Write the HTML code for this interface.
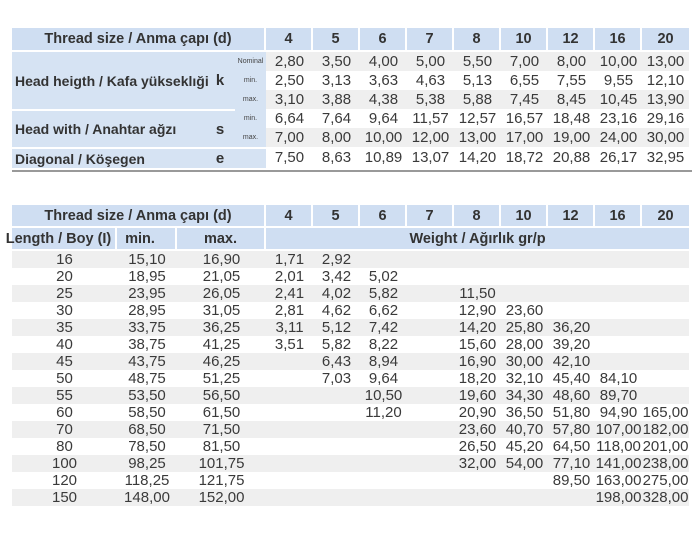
<!DOCTYPE html>
<html><head><meta charset="utf-8"><style>
body{margin:0;width:700px;height:560px;background:#fff;position:relative;overflow:hidden;font-family:"Liberation Sans",sans-serif;color:#3a3a3a}
table{position:absolute;left:12px;border-collapse:separate;border-spacing:0;table-layout:fixed;font-size:15px}
td{padding:0;text-align:center;white-space:nowrap;overflow:visible}
.h{background:#cfdef2 !important;font-weight:bold;color:#333;border-right:2px solid #fff;border-bottom:2px solid #fff;font-size:14.5px}
.g td{background:#efefef}
.lb{background:#d6e3f3 !important;font-weight:bold;text-align:left;padding-left:3px;color:#333;font-size:14px}
.sub{font-size:7px;background:#d6e3f3 !important;color:#444}
.lt{background:#d6e3f3 !important;font-weight:bold;color:#333}
#t1 td{height:19px}
#t1 .hr td{height:22px}
#t2 td{height:17px}
#t2 .hr td{height:21px}
.line{position:absolute;left:12px;width:680px;height:2px;background:#999}
</style></head><body>
<table id="t1" style="top:28px;width:677px">
<colgroup><col style="width:193px"><col style="width:30px"><col style="width:31px"><col span="9" style="width:47px"></colgroup>
<tr class="hr"><td class="h" colspan="3">Thread size / Anma çapı (d)</td><td class="h">4</td><td class="h">5</td><td class="h">6</td><td class="h">7</td><td class="h">8</td><td class="h">10</td><td class="h">12</td><td class="h">16</td><td class="h" style="border-right:0">20</td></tr>
<tr class="g"><td class="lb" rowspan="3">Head heigth / Kafa yükseklıği</td><td class="lt" rowspan="3">k</td><td class="sub">Nominal</td><td>2,80</td><td>3,50</td><td>4,00</td><td>5,00</td><td>5,50</td><td>7,00</td><td>8,00</td><td>10,00</td><td>13,00</td></tr>
<tr><td class="sub">min.</td><td>2,50</td><td>3,13</td><td>3,63</td><td>4,63</td><td>5,13</td><td>6,55</td><td>7,55</td><td>9,55</td><td>12,10</td></tr>
<tr class="g"><td class="sub">max.</td><td>3,10</td><td>3,88</td><td>4,38</td><td>5,38</td><td>5,88</td><td>7,45</td><td>8,45</td><td>10,45</td><td>13,90</td></tr>
<tr><td class="lb" rowspan="2" style="border-top:2px solid #fff">Head with / Anahtar ağzı</td><td class="lt" rowspan="2" style="border-top:2px solid #fff">s</td><td class="sub">min.</td><td>6,64</td><td>7,64</td><td>9,64</td><td>11,57</td><td>12,57</td><td>16,57</td><td>18,48</td><td>23,16</td><td>29,16</td></tr>
<tr class="g"><td class="sub">max.</td><td>7,00</td><td>8,00</td><td>10,00</td><td>12,00</td><td>13,00</td><td>17,00</td><td>19,00</td><td>24,00</td><td>30,00</td></tr>
<tr><td class="lb" style="border-top:2px solid #fff">Diagonal / Köşegen</td><td class="lt" style="border-top:2px solid #fff">e</td><td class="sub" style="border-top:2px solid #fff"></td><td>7,50</td><td>8,63</td><td>10,89</td><td>13,07</td><td>14,20</td><td>18,72</td><td>20,88</td><td>26,17</td><td>32,95</td></tr>
</table>
<div class="line" style="top:170px"></div>
<table id="t2" style="top:205px;width:677px">
<colgroup><col style="width:105px"><col style="width:60px"><col style="width:89px"><col span="9" style="width:47px"></colgroup>
<tr class="hr"><td class="h" colspan="3">Thread size / Anma çapı (d)</td><td class="h">4</td><td class="h">5</td><td class="h">6</td><td class="h">7</td><td class="h">8</td><td class="h">10</td><td class="h">12</td><td class="h">16</td><td class="h" style="border-right:0">20</td></tr>
<tr class="hr"><td class="h" style="text-indent:-10px">Length / Boy (I)</td><td class="h" style="text-indent:-12px">min.</td><td class="h">max.</td><td class="h" colspan="9" style="border-right:0">Weight / Ağırlık gr/p</td></tr>
<tr class="g"><td>16</td><td>15,10</td><td>16,90</td><td>1,71</td><td>2,92</td><td></td><td></td><td></td><td></td><td></td><td></td><td></td></tr>
<tr><td>20</td><td>18,95</td><td>21,05</td><td>2,01</td><td>3,42</td><td>5,02</td><td></td><td></td><td></td><td></td><td></td><td></td></tr>
<tr class="g"><td>25</td><td>23,95</td><td>26,05</td><td>2,41</td><td>4,02</td><td>5,82</td><td></td><td>11,50</td><td></td><td></td><td></td><td></td></tr>
<tr><td>30</td><td>28,95</td><td>31,05</td><td>2,81</td><td>4,62</td><td>6,62</td><td></td><td>12,90</td><td>23,60</td><td></td><td></td><td></td></tr>
<tr class="g"><td>35</td><td>33,75</td><td>36,25</td><td>3,11</td><td>5,12</td><td>7,42</td><td></td><td>14,20</td><td>25,80</td><td>36,20</td><td></td><td></td></tr>
<tr><td>40</td><td>38,75</td><td>41,25</td><td>3,51</td><td>5,82</td><td>8,22</td><td></td><td>15,60</td><td>28,00</td><td>39,20</td><td></td><td></td></tr>
<tr class="g"><td>45</td><td>43,75</td><td>46,25</td><td></td><td>6,43</td><td>8,94</td><td></td><td>16,90</td><td>30,00</td><td>42,10</td><td></td><td></td></tr>
<tr><td>50</td><td>48,75</td><td>51,25</td><td></td><td>7,03</td><td>9,64</td><td></td><td>18,20</td><td>32,10</td><td>45,40</td><td>84,10</td><td></td></tr>
<tr class="g"><td>55</td><td>53,50</td><td>56,50</td><td></td><td></td><td>10,50</td><td></td><td>19,60</td><td>34,30</td><td>48,60</td><td>89,70</td><td></td></tr>
<tr><td>60</td><td>58,50</td><td>61,50</td><td></td><td></td><td>11,20</td><td></td><td>20,90</td><td>36,50</td><td>51,80</td><td>94,90</td><td>165,00</td></tr>
<tr class="g"><td>70</td><td>68,50</td><td>71,50</td><td></td><td></td><td></td><td></td><td>23,60</td><td>40,70</td><td>57,80</td><td>107,00</td><td>182,00</td></tr>
<tr><td>80</td><td>78,50</td><td>81,50</td><td></td><td></td><td></td><td></td><td>26,50</td><td>45,20</td><td>64,50</td><td>118,00</td><td>201,00</td></tr>
<tr class="g"><td>100</td><td>98,25</td><td>101,75</td><td></td><td></td><td></td><td></td><td>32,00</td><td>54,00</td><td>77,10</td><td>141,00</td><td>238,00</td></tr>
<tr><td>120</td><td>118,25</td><td>121,75</td><td></td><td></td><td></td><td></td><td></td><td></td><td>89,50</td><td>163,00</td><td>275,00</td></tr>
<tr class="g"><td>150</td><td>148,00</td><td>152,00</td><td></td><td></td><td></td><td></td><td></td><td></td><td></td><td>198,00</td><td>328,00</td></tr>
</table>
</body></html>
